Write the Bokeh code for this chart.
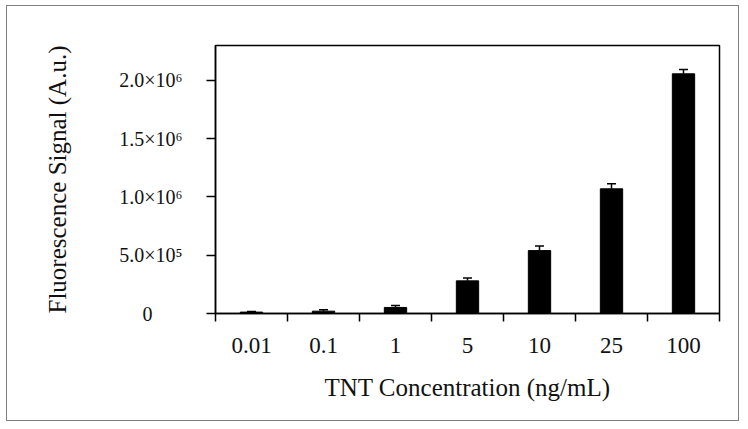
from bokeh.plotting import figure
from bokeh.models import FixedTicker, Range1d, Whisker, TeeHead, ColumnDataSource
from bokeh.embed import file_html
from bokeh.resources import INLINE

# ---- data ----
concentrations = ["0.01", "0.1", "1", "5", "10", "25", "100"]
signal = [1.2e4, 2.0e4, 5.2e4, 2.8e5, 5.4e5, 1.07e6, 2.057e6]
signal_err = [0.6e4, 1.2e4, 1.7e4, 2.4e4, 4.0e4, 4.3e4, 3.8e4]
y_ticks = [0, 5e5, 1e6, 1.5e6, 2e6]
y_tick_labels = ["0\u2007\u2007\u2007", "5.0\u00d710\u2075", "1.0\u00d710\u2076", "1.5\u00d710\u2076", "2.0\u00d710\u2076"]

FONT = "Liberation Serif"

n = len(concentrations)
xs = [i + 0.5 for i in range(n)]
src = ColumnDataSource(dict(
    x=xs, top=signal,
    upper=[v + e for v, e in zip(signal, signal_err)],
))

p = figure(width=733, height=416, output_backend="svg", toolbar_location=None,
           x_range=Range1d(0, n), y_range=Range1d(0, 2.3e6),
           min_border_left=208, min_border_right=21, min_border_top=39, min_border_bottom=109)
p.styles = {"border": "1px solid #7f7f7f", "margin-left": "6px", "margin-top": "5px"}
p.background_fill_color = "white"
p.border_fill_color = "white"
p.outline_line_color = "black"
p.outline_line_width = 1.5
p.grid.visible = False

p.vbar(x="x", top="top", width=0.31, bottom=0, source=src, fill_color="black", line_color="black")
wh = Whisker(base="x", lower="top", upper="upper", source=src,
             upper_head=TeeHead(size=9, line_color="black", line_width=1.5),
             lower_head=None, line_color="black", line_width=1.5)
p.add_layout(wh)

# x axis
xa = p.xaxis[0]
xa.ticker = FixedTicker(ticks=xs, minor_ticks=list(range(n + 1)))
xa.major_label_overrides = {x: c for x, c in zip(xs, concentrations)}
xa.major_tick_out = 0
xa.major_tick_in = 0
xa.minor_tick_out = 8
xa.minor_tick_in = 0
xa.minor_tick_line_color = "black"
xa.minor_tick_line_width = 1.5
xa.axis_line_color = "black"
xa.axis_line_width = 1.5
xa.major_label_text_font = FONT
xa.major_label_text_font_size = "23px"
xa.major_label_text_color = "#111111"
xa.major_label_standoff = 16
xa.axis_label = "TNT Concentration (ng/mL)"
xa.axis_label_text_font = FONT
xa.axis_label_text_font_size = "25px"
xa.axis_label_text_font_style = "normal"
xa.axis_label_text_color = "#111111"
xa.axis_label_standoff = 18

# y axis
ya = p.yaxis[0]
ya.ticker = FixedTicker(ticks=y_ticks, minor_ticks=[])
ya.major_label_overrides = {t: l for t, l in zip(y_ticks, y_tick_labels)}
ya.major_tick_out = 9
ya.major_tick_in = 0
ya.major_tick_line_color = "black"
ya.major_tick_line_width = 1.5
ya.axis_line_color = "black"
ya.axis_line_width = 1.5
ya.major_label_text_font = FONT
ya.major_label_text_font_size = "20px"
ya.major_label_text_color = "#111111"
ya.major_label_standoff = 24
ya.axis_label = "Fluorescence Signal (A.u.)"
ya.axis_label_text_font = FONT
ya.axis_label_text_font_size = "25px"
ya.axis_label_text_font_style = "normal"
ya.axis_label_text_color = "#111111"
ya.axis_label_standoff = 45

open("out.html", "w").write(file_html(p, INLINE))
